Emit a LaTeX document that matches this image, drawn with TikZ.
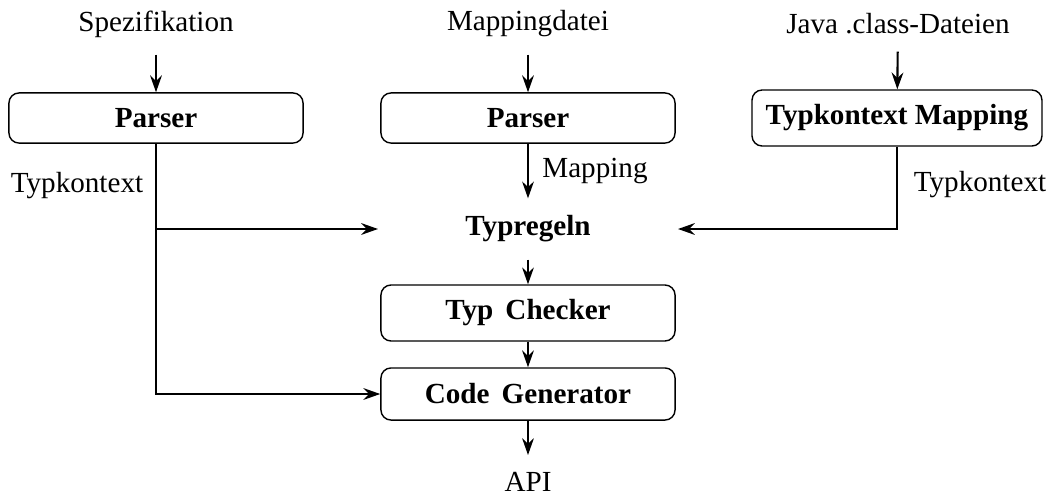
\documentclass[tikz,border=0pt]{standalone}
\usepackage{fontspec}
\setmainfont{Liberation Serif}
\usetikzlibrary{arrows.meta}

\begin{document}
\begin{tikzpicture}[x=0.357pt, y=-0.357pt,
  font=\fontsize{10.4}{12.5}\selectfont,
  stage/.style={draw, line width=0.5pt, rounded corners=3.6pt,
    minimum width=105pt, minimum height=17.9pt, inner sep=0pt, font=\fontsize{10.4}{12.5}\selectfont\bfseries},
  source/.style={inner sep=6pt},
  label/.style={inner sep=0pt},
  arr/.style={line width=0.75pt, -{Stealth[length=6pt, width=4.2pt, inset=2pt]}}]

  \useasboundingbox (0,0) rectangle (1049,498);

  % inputs
  \node[source] (spec) at (156,24) {Spezifikation};
  \node[source] (mapf) at (528,24) {Mappingdatei};
  \node[source] (java) at (898,24) {Java .class-Dateien};

  % first stage
  \node[stage] (p1) at (156,118) {Parser};
  \node[stage] (p2) at (528,118) {Parser};
  \node[stage, minimum width=103.5pt, minimum height=20pt] (tkm) at (897,118) {Typkontext Mapping};

  % rules and later stages
  \node[source, minimum width=106.7pt, font=\fontsize{10.4}{12.5}\selectfont\bfseries] (rules) at (528,229) {Typregeln};
  \node[stage, minimum height=20pt] (tc) at (528,313) {Typ\, Checker};
  \node[stage, minimum height=18.6pt] (cg) at (528,394) {Code\, Generator};
  \node[source] (api) at (528,482) {API};

  % connectors
  \draw[arr] (spec) -- (p1);
  \draw[arr] (mapf) -- (p2);
  \draw[arr] (java) -- (tkm);
  \draw[arr] (p2) -- (rules);
  \draw[arr] (p1.south) |- (cg.west);
  \draw[arr] (p1.south |- rules.west) -- (rules.west);
  \draw[arr] (tkm.south) |- (rules.east);
  \draw[arr] (rules) -- (tc);
  \draw[arr] (tc) -- (cg);
  \draw[arr] (cg) -- (api);

  % edge labels
  \node[label] (lk1) at (77,186) {Typkontext};
  \node[label] (lmap) at (595,171) {Mapping};
  \node[label] (lk2) at (980,185) {Typkontext};
\end{tikzpicture}
\end{document}
